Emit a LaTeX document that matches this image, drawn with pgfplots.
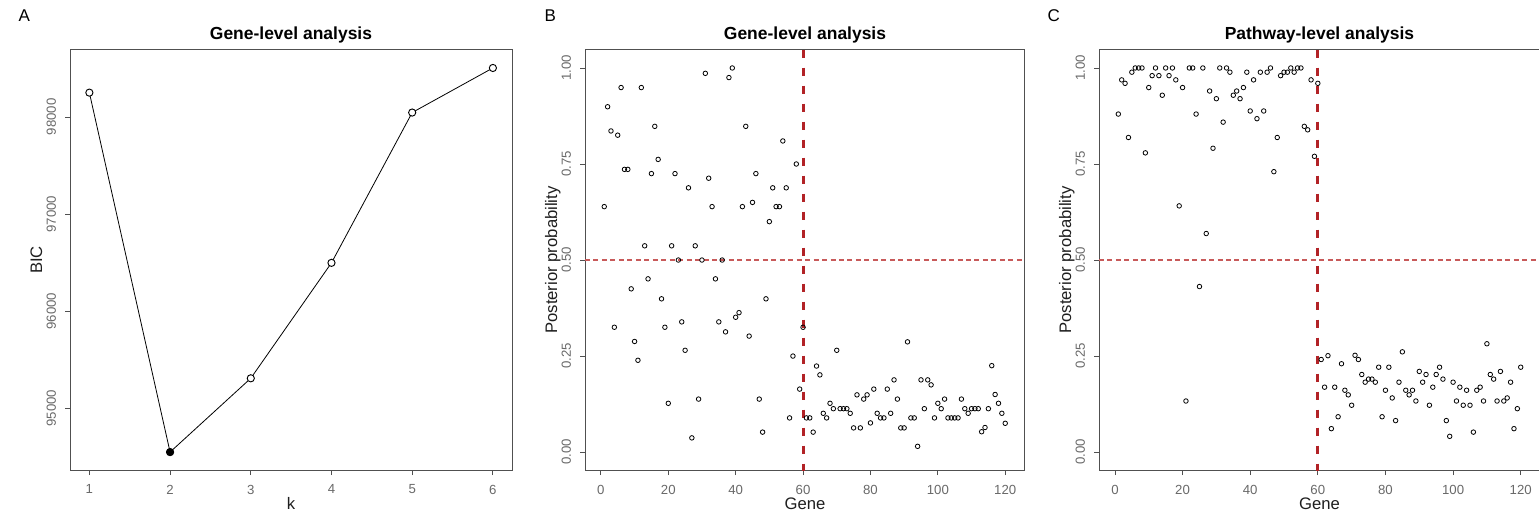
\documentclass[border=0pt]{standalone}
\usepackage{fontspec}
\setmainfont{Liberation Sans}
\usepackage{pgfplots}
\pgfplotsset{compat=1.18}
\usepackage{pgfplotstable}

\definecolor{boxgray}{RGB}{80,80,80}
\definecolor{tickgray}{RGB}{105,105,105}
\definecolor{labgray}{RGB}{30,30,30}
\definecolor{cutred}{RGB}{178,34,38}
\definecolor{halfred}{RGB}{200,90,90}

% BIC for each number of clusters k
\pgfplotstableread{
k   bic
1   98250
2   94548
3   95308
4   96497
5   98045
6   98504
}\bictable

% posterior probabilities, gene level
\pgfplotstableread{
gene prob
1 0.639
2 0.899
3 0.836
4 0.325
5 0.825
6 0.949
7 0.736
8 0.736
9 0.425
10 0.288
11 0.239
12 0.949
13 0.537
14 0.451
15 0.725
16 0.848
17 0.762
18 0.399
19 0.325
20 0.127
21 0.537
22 0.725
23 0.500
24 0.339
25 0.265
26 0.688
27 0.037
28 0.537
29 0.138
30 0.500
31 0.986
32 0.713
33 0.639
34 0.451
35 0.339
36 0.500
37 0.313
38 0.975
39 1.000
40 0.351
41 0.363
42 0.639
43 0.848
44 0.302
45 0.650
46 0.725
47 0.138
48 0.052
49 0.399
50 0.600
51 0.688
52 0.639
53 0.639
54 0.810
55 0.688
56 0.089
57 0.250
58 0.750
59 0.164
60 0.325
61 0.089
62 0.089
63 0.052
64 0.224
65 0.201
66 0.101
67 0.089
68 0.127
69 0.113
70 0.265
71 0.113
72 0.113
73 0.113
74 0.101
75 0.063
76 0.149
77 0.063
78 0.138
79 0.149
80 0.076
81 0.164
82 0.101
83 0.089
84 0.089
85 0.164
86 0.101
87 0.188
88 0.138
89 0.063
90 0.063
91 0.287
92 0.089
93 0.089
94 0.015
95 0.188
96 0.113
97 0.188
98 0.175
99 0.089
100 0.127
101 0.113
102 0.138
103 0.089
104 0.089
105 0.089
106 0.089
107 0.138
108 0.113
109 0.101
110 0.113
111 0.113
112 0.113
113 0.053
114 0.064
115 0.113
116 0.225
117 0.150
118 0.127
119 0.101
120 0.075
}\genetable

% posterior probabilities, pathway level
\pgfplotstableread{
gene prob
1 0.880
2 0.969
3 0.960
4 0.819
5 0.989
6 1.000
7 1.000
8 1.000
9 0.779
10 0.949
11 0.980
12 1.000
13 0.980
14 0.929
15 1.000
16 0.980
17 1.000
18 0.969
19 0.641
20 0.949
21 0.133
22 1.000
23 1.000
24 0.880
25 0.431
26 1.000
27 0.569
28 0.940
29 0.791
30 0.920
31 1.000
32 0.859
33 1.000
34 0.989
35 0.929
36 0.940
37 0.920
38 0.949
39 0.989
40 0.888
41 0.969
42 0.868
43 0.989
44 0.888
45 0.989
46 1.000
47 0.730
48 0.819
49 0.980
50 0.989
51 0.989
52 1.000
53 0.989
54 1.000
55 1.000
56 0.848
57 0.839
58 0.969
59 0.770
60 0.960
61 0.241
62 0.169
63 0.251
64 0.061
65 0.169
66 0.092
67 0.230
68 0.161
69 0.149
70 0.122
71 0.252
72 0.241
73 0.202
74 0.182
75 0.190
76 0.190
77 0.182
78 0.221
79 0.092
80 0.161
81 0.221
82 0.141
83 0.082
84 0.182
85 0.261
86 0.161
87 0.149
88 0.161
89 0.133
90 0.210
91 0.182
92 0.202
93 0.122
94 0.169
95 0.202
96 0.221
97 0.190
98 0.082
99 0.041
100 0.182
101 0.133
102 0.169
103 0.122
104 0.161
105 0.122
106 0.052
107 0.161
108 0.169
109 0.133
110 0.282
111 0.202
112 0.190
113 0.133
114 0.210
115 0.133
116 0.141
117 0.182
118 0.061
119 0.113
120 0.221
}\pathtable

\pgfplotsset{
  rpanel/.style={
    scale only axis,
    anchor=south west,
    axis line style={boxgray, line width=0.6pt},
    tick style={boxgray, line width=0.6pt},
    tick align=outside,
    major tick length=3.5pt,
    tick pos=left,
    scaled ticks=false,
    /pgf/number format/assume math mode=true,
    tick label style={font=\fontsize{9.9}{11}\selectfont, text=tickgray},
    yticklabel style={rotate=90, anchor=south, inner sep=0pt},
    xticklabel style={anchor=north, inner sep=0pt},
    xticklabel shift=7pt,
    yticklabel shift=6.75pt,
    clip=true,
  },
  probpanel/.style={
    rpanel,
    height=315.75pt,
    xmin=-4.71, ymin=-0.048, ymax=1.048,
    xtick={0,20,40,60,80,100,120},
    xticklabels={0,20,40,60,80,100,120},
    ytick={0,0.25,0.5,0.75,1},
    yticklabels={0.00,0.25,0.50,0.75,1.00},
  },
  dots/.style={only marks, mark=o, mark size=1.7pt, black,
    mark options={line width=0.6pt}},
  cutline/.style={cutred, line width=2.25pt, dash pattern=on 6pt off 7.5pt},
  halfline/.style={halfred, line width=1.1pt, dash pattern=on 3.75pt off 2.6pt},
}

\begin{document}
\begin{tikzpicture}
  \tikzset{
    lab/.style={font=\fontsize{12.5}{14}\selectfont, text=labgray},
    ttl/.style={font=\bfseries\fontsize{13.1}{15}\selectfont},
    tag/.style={font=\fontsize{12.75}{14}\selectfont, anchor=base west},
  }

  % A: BIC against k
  \begin{axis}[rpanel,
      at={(52.5pt,-352.9pt)}, width=331.7pt, height=315.75pt,
      xmin=0.76, xmax=6.24, ymin=94358, ymax=98694,
      xtick={1,2,3,4,5,6}, xticklabels={1,2,3,4,5,6},
      ytick={95000,96000,97000,98000},
      yticklabels={95000,96000,97000,98000}]
    \addplot[black, line width=0.6pt, mark=*, mark size=2.7pt,
      mark options={fill=white, line width=0.7pt}] table[x=k, y=bic] {\bictable};
    \addplot[only marks, mark=*, mark size=2.7pt, black] coordinates {(2,94548)};
  \end{axis}

  % B: gene-level posterior probabilities
  \begin{axis}[probpanel,
      at={(438.75pt,-352.9pt)}, width=329.6pt, xmax=125.71]
    \addplot[dots] table[x=gene, y=prob] {\genetable};
    \addplot[halfline] coordinates {(-4.71,0.5) (125.71,0.5)};
    \addplot[cutline] coordinates {(60,1.048) (60,-0.048)};
  \end{axis}

  % C: pathway-level posterior probabilities
  \begin{axis}[probpanel,
      at={(824.25pt,-352.9pt)}, width=331.5pt, xmax=126.0]
    \addplot[dots] table[x=gene, y=prob] {\pathtable};
    \addplot[halfline] coordinates {(-4.71,0.5) (126.0,0.5)};
    \addplot[cutline] coordinates {(60,1.048) (60,-0.048)};
  \end{axis}

  % panel tags
  \node[tag] at (10.5pt,-16.3pt) {A};
  \node[tag] at (405pt,-16.3pt) {B};
  \node[tag] at (782.25pt,-16.3pt) {C};

  % titles
  \node[ttl, anchor=base] at (218.25pt,-29.5pt) {Gene-level analysis};
  \node[ttl, anchor=base] at (603.75pt,-29.5pt) {Gene-level analysis};
  \node[ttl, anchor=base] at (989.6pt,-29.5pt) {Pathway-level analysis};

  % axis labels
  \node[lab, anchor=base] at (218.25pt,-381.75pt) {k};
  \node[lab, anchor=base] at (603.75pt,-381.75pt) {Gene};
  \node[lab, anchor=base] at (989.6pt,-381.75pt) {Gene};
  \node[lab, anchor=base, rotate=90] at (31.5pt,-195pt) {BIC};
  \node[lab, anchor=base, rotate=90] at (417.75pt,-195pt) {Posterior probability};
  \node[lab, anchor=base, rotate=90] at (803.25pt,-195pt) {Posterior probability};

  \pgfresetboundingbox
  \path[use as bounding box] (0pt,0pt) rectangle (1154.25pt,-387pt);
\end{tikzpicture}
\end{document}
